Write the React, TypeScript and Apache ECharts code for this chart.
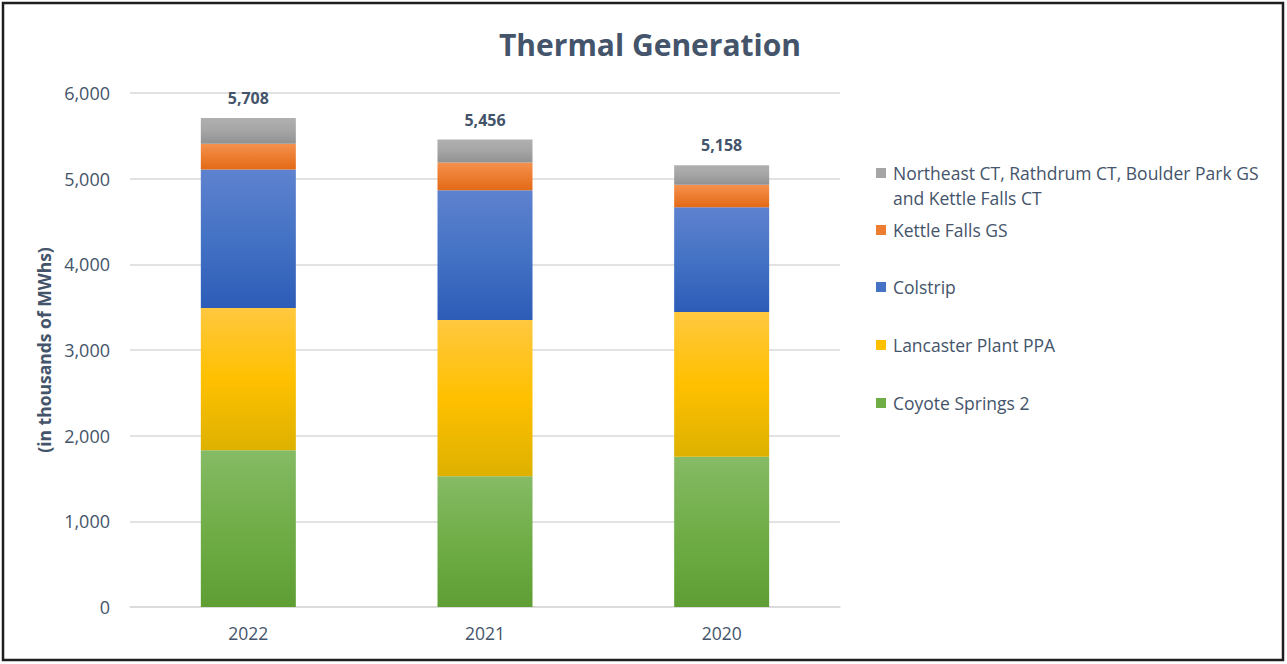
import React, { useEffect, useRef } from "react";
import * as echarts from "echarts";

const categories = ["2022", "2021", "2020"];
const coyoteSprings2 = [1830, 1525, 1755];
const lancasterPPA = [1660, 1825, 1690];
const colstrip = [1618, 1515, 1220];
const kettleFallsGS = [300, 325, 265];
const northeastEtc = [300, 266, 228];
const totals = [5708, 5456, 5158];
const seriesNames = [
  "Coyote Springs 2",
  "Lancaster Plant PPA",
  "Colstrip",
  "Kettle Falls GS",
  "Northeast CT, Rathdrum CT, Boulder Park GS and Kettle Falls CT",
];

const TEXT = "#44546A";
const FONT = "Open Sans";

const grad = (a: string, b: string, c: string) =>
  new echarts.graphic.LinearGradient(0, 0, 0, 1, [
    { offset: 0, color: a },
    { offset: 0.5, color: b },
    { offset: 1, color: c },
  ]);

export default function App() {
  const ref = useRef<HTMLDivElement>(null);
  useEffect(() => {
    const chart = echarts.init(ref.current!, null, { renderer: "svg" });
    const fills = [
      { g: grad("#85BB65", "#70AD47", "#5E9E33"), solid: "#70AD47" },
      { g: grad("#FFC83F", "#FFC000", "#DDB100"), solid: "#FFC000" },
      { g: grad("#5E82CF", "#4472C4", "#2D5CB8"), solid: "#4472C4" },
      { g: grad("#F4914F", "#ED7D31", "#E36A17"), solid: "#ED7D31" },
      { g: grad("#B0B0B0", "#A5A5A5", "#919191"), solid: "#A5A5A5" },
    ];
    const dataArrs = [coyoteSprings2, lancasterPPA, colstrip, kettleFallsGS, northeastEtc];
    const legendCenters = [404, 346, 288, 231, 174];
    const series = dataArrs.map((d, i) => ({
      name: seriesNames[i],
      type: "bar",
      stack: "total",
      barWidth: 95,
      data: d,
      itemStyle: { color: fills[i].g },
      label:
        i === 4
          ? {
              show: true,
              position: "top",
              distance: 12,
              formatter: (p: any) => totals[p.dataIndex].toLocaleString("en-US"),
              color: TEXT,
              fontFamily: FONT,
              fontWeight: "bold",
              fontSize: 16,
            }
          : { show: false },
    }));
    const legends = seriesNames.map((n, i) => ({
      show: true,
      orient: "vertical",
      left: 876,
      top: legendCenters[i] - 10,
      padding: 0,
      itemWidth: 10,
      itemHeight: 10,
      itemGap: 0,
      icon: "rect",
      data: [{ name: n, itemStyle: { color: fills[i].solid } }],
      formatter: (name: string) =>
        i === 4 ? "Northeast CT, Rathdrum CT, Boulder Park GS" : name,
      textStyle: { color: TEXT, fontFamily: FONT, fontSize: 17.5, padding: [0, 0, 0, 2] },
      selectedMode: false,
    }));
    chart.setOption({
      animation: false,
      backgroundColor: "#ffffff",
      textStyle: { fontFamily: FONT },
      title: {
        text: "Thermal Generation",
        left: 645,
        textAlign: "center",
        top: 24,
        textStyle: { color: TEXT, fontFamily: FONT, fontWeight: "bold", fontSize: 30 },
      },
      legend: legends,
      grid: { left: 130, right: 447, top: 93, bottom: 57 },
      xAxis: {
        type: "category",
        data: categories,
        axisLine: { show: true, lineStyle: { color: "#D9D9D9", width: 1.5 } },
        axisTick: { show: false },
        axisLabel: { color: TEXT, fontFamily: FONT, fontSize: 17.5, margin: 17 },
      },
      yAxis: {
        type: "value",
        min: 0,
        max: 6000,
        interval: 1000,
        name: "(in thousands of MWhs)",
        nameLocation: "middle",
        nameRotate: 90,
        nameGap: 76,
        nameTextStyle: { color: TEXT, fontFamily: FONT, fontWeight: "bold", fontSize: 17.5 },
        axisLine: { show: false },
        axisTick: { show: false },
        splitLine: { lineStyle: { color: "#D9D9D9", width: 1.5 } },
        axisLabel: {
          color: TEXT,
          fontFamily: FONT,
          fontSize: 18,
          margin: 20,
          formatter: (v: number) => v.toLocaleString("en-US"),
        },
      },
      graphic: [
        {
          type: "rect",
          shape: { x: 3, y: 3, width: 1280, height: 657 },
          style: { fill: "none", stroke: "#1E1E1E", lineWidth: 2.5 },
          silent: true,
        },
        {
          type: "text",
          x: 893,
          y: 198,
          style: {
            text: "and Kettle Falls CT",
            fill: TEXT,
            fontFamily: FONT,
            fontSize: 17.5,
            verticalAlign: "middle",
          },
          silent: true,
        },
      ],
      series,
    });
    return () => chart.dispose();
  }, []);
  return (
    <div
      ref={ref}
      style={{ position: "fixed", left: 0, top: 0, width: 1287, height: 664 }}
    />
  );
}
